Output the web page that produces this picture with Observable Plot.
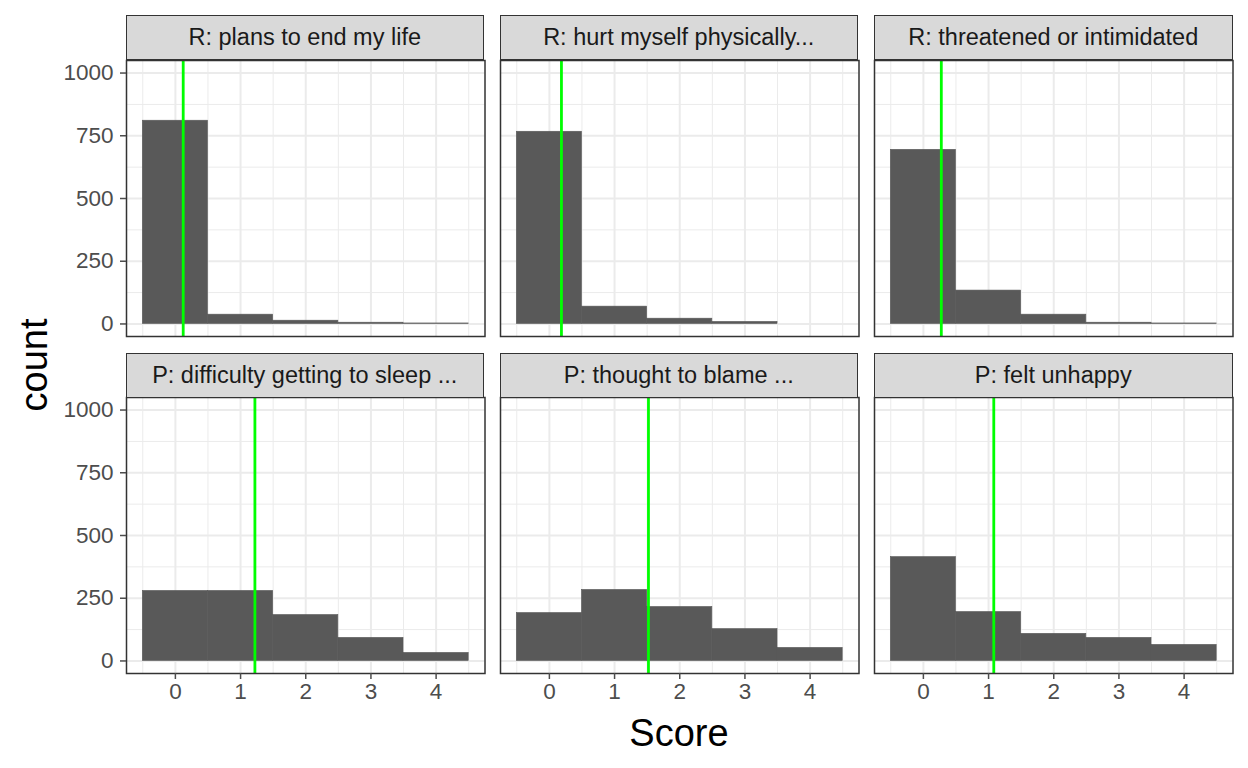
<!DOCTYPE html>
<html>
<head>
<meta charset="utf-8">
<script src="https://cdn.jsdelivr.net/npm/d3@7"></script>
<script src="https://cdn.jsdelivr.net/npm/@observablehq/plot@0.6"></script>
<style>
  html, body { margin: 0; padding: 0; background: #fff; }
  #chart { position: relative; width: 1248px; height: 768px; background: #fff;
           font-family: "Liberation Sans", Arial, sans-serif; overflow: hidden; }
  .strip { position: absolute; box-sizing: border-box; background: #d9d9d9;
           border: 1.4px solid #333; display: flex; align-items: center; justify-content: center;
           font-size: 23.5px; color: #1a1a1a; white-space: nowrap; }
  .title { position: absolute; color: #000; font-size: 38px; white-space: nowrap; }
  svg { position: absolute; overflow: visible; }
</style>
</head>
<body>
<div id="chart"></div>
<script>
// ---- data ----
const facetLabels = [
  "R: plans to end my life",
  "R: hurt myself physically...",
  "R: threatened or intimidated",
  "P: difficulty getting to sleep ...",
  "P: thought to blame ...",
  "P: felt unhappy"
];
const scores = [0, 1, 2, 3, 4];
const countsPlans      = [810, 37, 13, 5, 2];
const countsHurt       = [766, 69, 21, 8, 0];
const countsThreatened = [694, 133, 37, 5, 2];
const countsSleep      = [279, 279, 183, 92, 32];
const countsBlame      = [191, 283, 215, 127, 52];
const countsUnhappy    = [414, 195, 108, 92, 64];
const meanScores = [0.12, 0.185, 0.275, 1.22, 1.52, 1.08];
const yTicks = [0, 250, 500, 750, 1000];
const yMinor = [125, 375, 625, 875];
const xTicks = [0, 1, 2, 3, 4];
const xMinor = [-0.5, 0.5, 1.5, 2.5, 3.5, 4.5];

const allCounts = [countsPlans, countsHurt, countsThreatened, countsSleep, countsBlame, countsUnhappy];

// ---- layout ----
const panelX = [125.5, 499.5, 874];
const panelY = [59.5, 397];
const panelW = 358.5, panelH = 276, stripH = 44.5;
const chart = document.getElementById("chart");

facetLabels.forEach((label, i) => {
  const r = Math.floor(i / 3), c = i % 3;
  const data = scores.map((s, k) => ({score: s, count: allCounts[i][k]})).filter(d => d.count > 0);
  const ml = c === 0 ? 90 : 2, mr = 2, mt = 2, mb = r === 1 ? 45 : 2;

  const marks = [
    Plot.gridX(xMinor, {stroke: "#ebebeb", strokeOpacity: 1, strokeWidth: 1}),
    Plot.gridY(yMinor, {stroke: "#ebebeb", strokeOpacity: 1, strokeWidth: 1}),
    Plot.gridX(xTicks, {stroke: "#ebebeb", strokeOpacity: 1, strokeWidth: 2}),
    Plot.gridY(yTicks, {stroke: "#ebebeb", strokeOpacity: 1, strokeWidth: 2}),
    Plot.rectY(data, {x1: d => d.score - 0.5, x2: d => d.score + 0.5, y1: 0, y2: "count",
                      fill: "#595959", stroke: "#595959", strokeWidth: 0.6}),
    Plot.ruleX([meanScores[i]], {stroke: "#00ff00", strokeWidth: 2.8}),
    Plot.frame({stroke: "#333", strokeWidth: 1.5})
  ];
  if (c === 0) marks.push(Plot.axisY(yTicks, {tickSize: 6, tickPadding: 7, fontSize: 22.5, color: "#4d4d4d",
                                             label: null, strokeWidth: 1.5, tickFormat: d => String(d)}));
  if (r === 1) marks.push(Plot.axisX(xTicks, {tickSize: 6, tickPadding: 4, fontSize: 22.5, color: "#4d4d4d",
                                             label: null, strokeWidth: 1.5, tickFormat: d => String(d)}));

  const svg = Plot.plot({
    width: ml + panelW + mr,
    height: mt + panelH + mb,
    marginLeft: ml, marginRight: mr, marginTop: mt, marginBottom: mb,
    x: {domain: [-0.75, 4.75], axis: null},
    y: {domain: [-50, 1050], axis: null},
    style: {fontFamily: "'Liberation Sans', Arial, sans-serif", background: "transparent", overflow: "visible"},
    marks
  });
  svg.style.left = (panelX[c] - ml) + "px";
  svg.style.top = (panelY[r] - mt) + "px";
  chart.appendChild(svg);

  const strip = document.createElement("div");
  strip.className = "strip";
  strip.style.left = panelX[c] + "px";
  strip.style.top = (panelY[r] - stripH) + "px";
  strip.style.width = panelW + "px";
  strip.style.height = (stripH + 0.7) + "px";
  strip.textContent = label;
  chart.appendChild(strip);
});

const xTitle = document.createElement("div");
xTitle.className = "title";
xTitle.textContent = "Score";
xTitle.style.left = "679px";
xTitle.style.top = "733px";
xTitle.style.transform = "translate(-50%, -50%)";
chart.appendChild(xTitle);

const yTitle = document.createElement("div");
yTitle.className = "title";
yTitle.textContent = "count";
yTitle.style.left = "34px";
yTitle.style.top = "365px";
yTitle.style.transform = "translate(-50%, -50%) rotate(-90deg)";
chart.appendChild(yTitle);
</script>
</body>
</html>
